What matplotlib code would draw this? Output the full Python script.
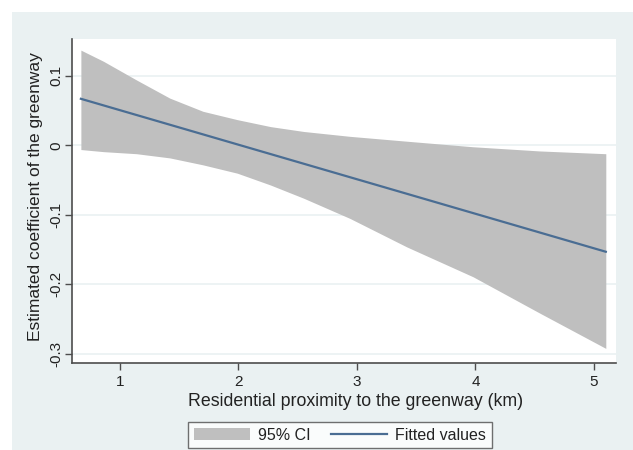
import matplotlib.pyplot as plt
from matplotlib.patches import Rectangle, Patch
from matplotlib.lines import Line2D

plt.rcParams['font.family'] = ['Liberation Sans', 'DejaVu Sans']

# values
ci_x = [0.67, 0.86, 1.14, 1.42, 1.70, 1.99, 2.27, 2.55, 2.94, 3.42, 3.98, 4.54, 5.10]
ci_upper = [0.137, 0.121, 0.094, 0.068, 0.049, 0.037, 0.027, 0.020, 0.013, 0.006, -0.002, -0.008, -0.012]
ci_lower = [-0.006, -0.009, -0.012, -0.018, -0.028, -0.040, -0.057, -0.076, -0.105, -0.146, -0.189, -0.241, -0.292]
fit_x = [0.67, 5.10]
fit_y = [0.067, -0.153]

x_ticks = [1, 2, 3, 4, 5]
y_ticks = [-0.3, -0.2, -0.1, 0, 0.1]
y_tick_labels = ['-0.3', '-0.2', '-0.1', '0', '0.1']

bg = '#eaf1f2'
ci_color = '#bfbfbf'
line_color = '#4a6d93'
text_color = '#222222'

fig = plt.figure(figsize=(6.33, 4.5), dpi=100)
fig.patch.set_facecolor('white')
# stata-style outer background, leaving a white strip top and left
fig.patches.append(Rectangle((12 / 633, 0), 1 - 12 / 633, 438 / 450,
                             transform=fig.transFigure, facecolor=bg,
                             edgecolor='none', zorder=-5))

ax = fig.add_axes([72 / 633, 87 / 450, 544 / 633, 324 / 450])
ax.set_facecolor('white')

ax.fill_between(ci_x, ci_lower, ci_upper, color=ci_color, linewidth=0, zorder=2)
ax.plot(fit_x, fit_y, color=line_color, linewidth=1.6, zorder=3)

ax.set_xlim(0.595, 5.186)
ax.set_ylim(-0.313, 0.153)
ax.set_xticks(x_ticks)
ax.set_yticks(y_ticks)
ax.set_yticklabels(y_tick_labels, rotation=90, va='center')

ax.grid(axis='y', color=bg, linewidth=1.2, zorder=1)
ax.set_axisbelow(True)

for side in ['top', 'right']:
    ax.spines[side].set_visible(False)
for side in ['left', 'bottom']:
    ax.spines[side].set_color('#4d4d4d')
    ax.spines[side].set_linewidth(1.2)

ax.tick_params(direction='out', length=5, width=1, color='#4d4d4d',
               labelsize=11, labelcolor=text_color)
ax.tick_params(axis='x', pad=4)
ax.tick_params(axis='y', pad=1)

ax.set_xlabel('Residential proximity to the greenway (km)', fontsize=12.8,
              color=text_color, va='center')
ax.xaxis.set_label_coords(0.522, -0.12)
ax.set_ylabel('Estimated coefficient of the greenway', fontsize=12.5,
              color=text_color, va='center')
ax.yaxis.set_label_coords(-0.068, 0.515)

handles = [Patch(facecolor=ci_color, edgecolor='none'),
           Line2D([0], [0], color=line_color, linewidth=1.6)]
leg = fig.legend(handles, ['95% CI', 'Fitted values'], ncol=2,
                 loc='upper center', bbox_to_anchor=(340 / 633, 28 / 450),
                 fontsize=11.5, frameon=True, fancybox=False,
                 handlelength=3.5, handleheight=0.8, handletextpad=0.5,
                 columnspacing=1.3, borderpad=0.35, borderaxespad=0)
leg.get_frame().set_edgecolor('#4d4d4d')
leg.get_frame().set_linewidth(1.0)
for t in leg.get_texts():
    t.set_color(text_color)

fig.savefig('out.png', dpi=100)
